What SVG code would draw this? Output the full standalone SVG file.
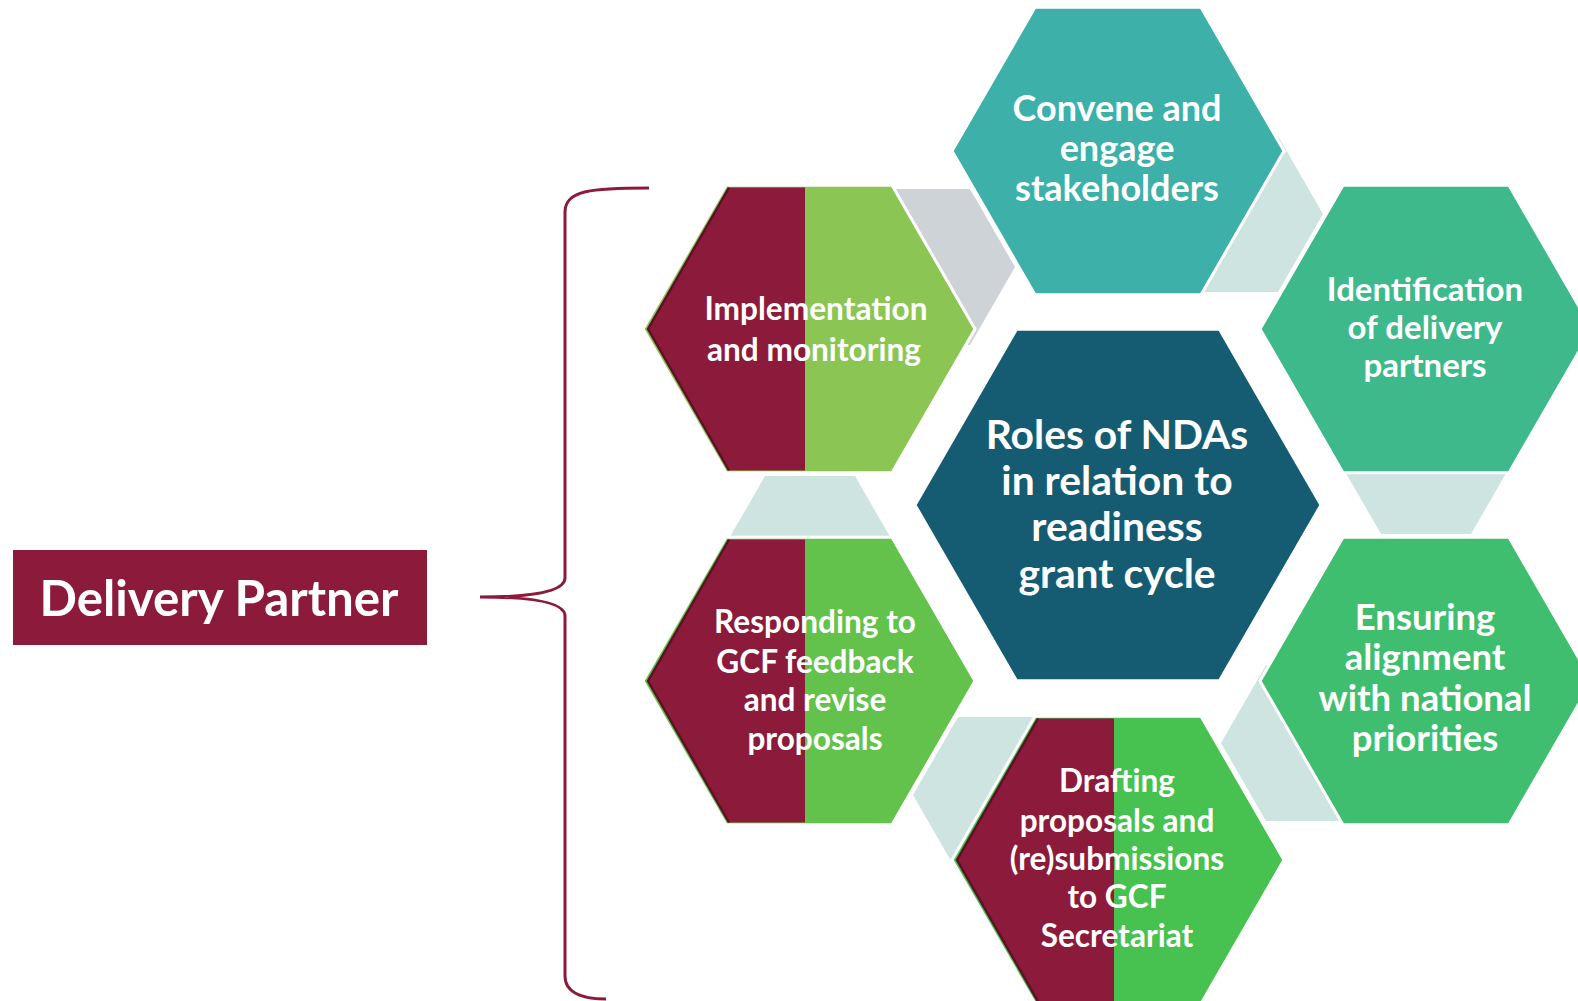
<svg xmlns="http://www.w3.org/2000/svg" xmlns:xlink="http://www.w3.org/1999/xlink" width="1578" height="1001" viewBox="0 0 1578 1001">
<defs>
<style>
.hex{stroke:#ffffff;stroke-width:3;stroke-linejoin:miter}
.con{fill:#CEE4E0}
.grey{fill:#CDD3D7}
.maroon{fill:#8B1A3B}
.shadow{fill:none;stroke:#5E1028;stroke-width:2.5}
.t{font-family:Lato,"Open Sans","Liberation Sans",sans-serif;font-weight:700;fill:#ffffff;text-anchor:middle}
.o{font-size:31.6px}
.cv{font-size:36px}
.id{font-size:33px}
.en{font-size:36.5px}
.c{font-size:40.8px}
.dp{font-size:49.3px}
</style>
<polygon id="hexR" points="-166,0 -83,-143.8 83,-143.8 166,0 83,143.8 -83,143.8"/>
<polygon id="hexS" points="-90,0 -45,-78 45,-78 90,0 45,78 -45,78"/>
<polygon id="half" points="-161,0 -80,-141.5 -4,-141.5 -4,141.5 -80,141.5"/>
<polyline id="halfEdge" points="-80,-141.5 -161,0 -80,141.5"/>
</defs>
<rect width="1578" height="1001" fill="#ffffff"/>

<g id="connectors">
<use xlink:href="#hexS" class="grey" transform="translate(925,267)"/>
<use xlink:href="#hexS" class="con" transform="translate(1233,214)"/>
<use xlink:href="#hexS" class="con" transform="translate(1426,456)"/>
<use xlink:href="#hexS" class="con" transform="translate(1311,743)"/>
<use xlink:href="#hexS" class="con" transform="translate(1003,795)"/>
<use xlink:href="#hexS" class="con" transform="translate(810,554)"/>
</g>

<g id="brace">
<path d="M 649 188 C 592 188 565 190 565 212 L 565 578 C 565 592 530 597 480 597 C 530 597 565 602 565 616 L 565 976 C 565 996 590 999 606 999" fill="none" stroke="#8B1A3B" stroke-width="3"/>
</g>

<g id="delivery-partner">
<rect x="13" y="550" width="414" height="95" fill="#8B1A3B"/>
<text class="t dp" x="219" y="616">Delivery Partner</text>
</g>

<g id="center">
<polygon class="hex" fill="#155C73" points="915,505 1016.5,329.2 1219.5,329.2 1321,505 1219.5,680.8 1016.5,680.8"/>
<text class="t c" x="1117" y="449">Roles of NDAs</text>
<text class="t c" x="1117" y="495">in relation to</text>
<text class="t c" x="1117" y="541">readiness</text>
<text class="t c" x="1117" y="588">grant cycle</text>
</g>

<g id="convene">
<use xlink:href="#hexR" class="hex" fill="#3DB0A9" transform="translate(1118,151)"/>
<text class="t cv" x="1117" y="121">Convene and</text>
<text class="t cv" x="1117" y="161">engage</text>
<text class="t cv" x="1117" y="201">stakeholders</text>
</g>

<g id="identification">
<use xlink:href="#hexR" class="hex" fill="#3EB98C" transform="translate(1426,329)"/>
<text class="t id" x="1425" y="301">Identification</text>
<text class="t id" x="1425" y="339">of delivery</text>
<text class="t id" x="1425" y="377">partners</text>
</g>

<g id="ensuring">
<use xlink:href="#hexR" class="hex" fill="#40BE6F" transform="translate(1426,681)"/>
<text class="t en" x="1425" y="630">Ensuring</text>
<text class="t en" x="1425" y="670">alignment</text>
<text class="t en" x="1425" y="711">with national</text>
<text class="t en" x="1425" y="751">priorities</text>
</g>

<g id="drafting">
<use xlink:href="#hexR" class="hex" fill="#47C150" transform="translate(1118,860)"/>
<use xlink:href="#half" class="maroon" transform="translate(1118,860)"/>
<use xlink:href="#halfEdge" class="shadow" transform="translate(1118,860)"/>
<text class="t o" x="1117" y="792">Drafting</text>
<text class="t o" x="1117" y="832">proposals and</text>
<text class="t o" x="1117" y="870">(re)submissions</text>
<text class="t o" x="1117" y="908">to GCF</text>
<text class="t o" x="1117" y="947">Secretariat</text>
</g>

<g id="responding">
<use xlink:href="#hexR" class="hex" fill="#63C24C" transform="translate(809,681)"/>
<use xlink:href="#half" class="maroon" transform="translate(809,681)"/>
<use xlink:href="#halfEdge" class="shadow" transform="translate(809,681)"/>
<text class="t o" x="815" y="633">Responding to</text>
<text class="t o" x="815" y="673">GCF feedback</text>
<text class="t o" x="815" y="711">and revise</text>
<text class="t o" x="815" y="750">proposals</text>
</g>

<g id="implementation">
<use xlink:href="#hexR" class="hex" fill="#8BC554" transform="translate(809,329)"/>
<use xlink:href="#half" class="maroon" transform="translate(809,329)"/>
<use xlink:href="#halfEdge" class="shadow" transform="translate(809,329)"/>
<text class="t o" x="816" y="320">Implementation</text>
<text class="t o" x="814" y="361">and monitoring</text>
</g>
</svg>
